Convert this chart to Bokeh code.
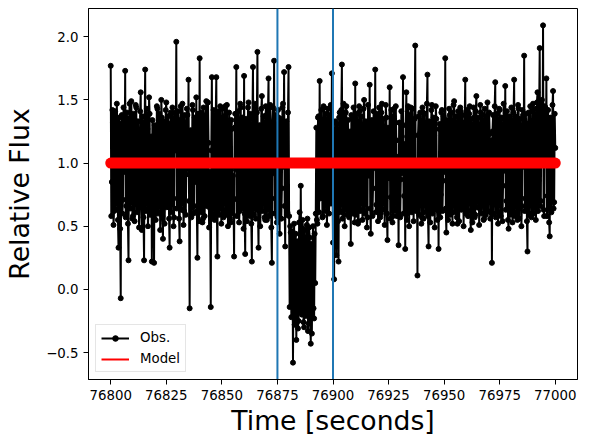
import numpy as np
from bokeh.plotting import figure
from bokeh.models import Span, Legend, LegendItem, FixedTicker, Range1d
from bokeh.embed import file_html
from bokeh.resources import INLINE

# ---------------- data ----------------
t_start = 76800.0
t_step = 0.5
# samples on the whole / half seconds
obs_flux_a = [
    1.77, 0.85, 1.32, 0.62, 1.41, 0.78, 1.18, 0.33, 1.25, -0.07,
    1.38, 0.71, 1.12, 1.73, 0.66, 1.29, 0.23, 1.47, 0.81, 1.22,
    0.58, 1.35, 0.92, 1.44, 0.69, 1.08, 0.74, 1.56, 0.47, 1.31,
    0.23, 1.74, 0.88, 1.27, 0.64, 1.39, 0.95, 0.22, 1.15, 0.21,
    1.28, 0.73, 1.43, 0.86, 1.19, 0.61, 1.36, 0.40, 1.22, 0.79,
    1.48, 0.67, 1.13, 0.33, 1.40, 0.89, 1.25, 0.57, 1.34, 1.96,
    0.72, 1.21, 0.38, 1.45, 0.83, 1.30, 0.62, 1.17, 0.91, 1.38,
    1.66, -0.15, 1.26, 0.75, 1.42, 0.66, 1.09, 1.52, 0.25, 1.33,
    1.83, 0.70, 1.24, 0.56, 1.37, 0.84, 1.49, 0.68, 1.16, 0.93,
    -0.14, 1.68, 0.77, 1.33, 0.60, 1.68, 0.26, 1.41, 0.82, 1.20,
    0.64, 1.36, 0.87, 1.45, 0.59, 1.12, 0.76, 1.31, 0.53, 1.27,
    0.90, 0.26, 1.39, 1.76, 0.71, 1.23, 0.62, 1.44, 0.85, 1.18,
    1.69, 0.28, 1.35, 0.74, 1.48, 0.58, 1.21, 0.22, 1.76, 0.69,
    1.42, 0.81, 1.88, 0.33, 1.30, 0.65, 1.53, 0.78, 1.26, 0.55,
    1.38, 0.86, 1.67, 0.63, 1.29, 0.21, 1.44, 1.81, 0.72, 1.19,
    0.57, 1.36, 0.44, 1.25, 0.80, 1.47, 1.72, 0.34, 1.33, 0.61,
    1.76, -0.14, 0.45, 0.05, -0.58, 0.52, -0.12, -0.40, 0.38, -0.25,
    0.61, 0.82, -0.20, 0.48, -0.30, 0.30, -0.08, 0.56, -0.27, 0.41,
    -0.43, -0.35, 0.50, -0.23, 0.05, 1.28, 0.52, 1.37, 1.65, 0.74,
    1.21, 0.58, 1.44, 0.83, 1.30, 0.66, 1.18, 0.90, 1.46, 1.71,
    0.37, 0.08, 1.33, 0.27, 1.24, 0.22, 1.40, 0.75, 1.78, 0.62,
    1.26, 0.88, 1.45, 0.59, 1.14, 0.79, 0.36, 1.35, 0.68, 1.29,
    1.63, 0.71, 1.22, 0.54, 1.41, 0.85, 1.19, 0.63, 1.50, 0.92,
    1.31, 0.57, 1.27, 1.62, 0.44, 1.34, 0.80, 1.16, 1.74, 0.67,
    1.39, 0.76, 1.25, 0.60, 1.47, 0.89, 1.12, 0.70, 1.36, 0.39,
    1.23, 1.60, 0.73, 1.30, 0.58, 1.43, 0.84, 1.18, 0.65, 0.35,
    1.32, 0.87, 1.21, 1.68, 0.74, 0.32, 1.56, 0.69, 1.28, 0.90,
    1.44, 0.61, 1.17, 0.78, 1.93, 0.62, 0.11, 1.37, 0.83, 1.25,
    0.57, 1.40, 0.88, 1.16, 0.66, 1.70, 0.34, 1.29, 0.79, 1.46,
    0.63, 1.22, 0.92, 1.35, 0.55, 0.32, 1.31, 0.75, 1.42, 0.86,
    1.20, 1.83, 0.45, 1.27, 0.71, 1.38, 0.60, 1.15, 0.89, 1.49,
    0.66, 1.24, 0.52, 1.33, 0.81, 1.41, 0.68, 1.19, 0.77, 1.66,
    0.63, 1.30, 0.85, 1.45, 0.47, 1.21, 0.74, 1.36, 0.59, 1.53,
    0.90, 1.17, 0.64, 1.40, 0.80, 1.26, 0.56, 1.34, 0.72, 1.48,
    0.87, 1.23, 0.61, 0.21, 1.38, 0.78, 1.64, 0.67, 1.29, 0.93,
    1.42, 0.58, 1.16, 0.82, 1.35, 1.61, 0.70, 1.24, 0.48, 1.37,
    0.84, 1.19, 0.62, 1.66, 0.76, 1.31, 0.55, 1.43, 0.89, 1.22,
    0.66, 1.38, 1.85, 0.72, 1.27, 0.30, 1.40, 0.81, 1.15, 0.60,
    1.47, 0.79, 1.33, 0.64, 1.56, 0.86, 1.91, 0.70, 1.50, 2.09,
    0.58, 1.44, 1.67, 0.74, 1.30, 0.42, 1.36, 0.88, 1.57, 0.69,
    1.12,
]
# samples a quarter second later
obs_flux_b = [
    0.58, 1.42, 0.51, 1.38, 0.63, 1.47, 0.55, 1.36, 0.48, 1.31,
    0.60, 1.44, 0.93, 0.57, 1.40, 0.52, 1.35, 0.64, 1.49, 0.56,
    1.39, 0.54, 1.46, 0.61, 1.33, 0.49, 1.41, 0.66, 1.37, 0.57,
    1.29, 0.62, 1.43, 0.50, 1.52, 0.59, 1.21, 1.34, 0.63, 1.30,
    0.55, 1.45, 0.60, 1.39, 0.47, 1.50, 0.58, 1.33, 0.52, 1.42,
    0.65, 1.37, 0.56, 1.31, 0.61, 1.44, 0.50, 1.40, 1.10, 0.64,
    1.41, 0.56, 1.34, 0.63, 1.47, 0.51, 1.38, 0.59, 1.43, 0.95,
    0.70, 1.02, 0.57, 1.46, 0.60, 1.36, 0.85, 0.62, 1.39, 0.54,
    0.61, 1.40, 0.53, 1.44, 0.58, 1.35, 0.66, 1.48, 0.49, 0.64,
    1.10, 0.57, 1.42, 0.55, 1.38, 0.63, 1.30, 0.59, 1.45, 0.52,
    1.43, 0.57, 1.37, 0.62, 1.46, 0.50, 1.40, 0.56, 1.34, 0.60,
    0.72, 1.28, 0.95, 0.58, 1.41, 0.53, 1.47, 0.64, 1.36, 0.48,
    0.60, 1.32, 0.54, 1.44, 0.61, 1.39, 0.52, 1.35, 0.59, 1.47,
    0.56, 1.40, 0.63, 1.29, 0.50, 1.43, 0.62, 1.37, 0.57, 1.45,
    0.55, 1.41, 0.58, 1.46, 0.49, 1.30, 0.92, 0.60, 1.38, 0.53,
    1.42, 0.62, 1.35, 0.56, 1.44, 0.97, 0.66, 1.31, 0.59, 1.40,
    0.58, 0.50, -0.22, 0.46, 0.20, -0.28, 0.44, 0.25, -0.31, 0.53,
    -0.18, 0.10, 0.55, -0.26, 0.47, -0.21, 0.51, -0.33, 0.49, -0.19,
    0.36, 0.28, -0.15, 0.44, 0.60, 0.55, 1.36, 0.61, 0.72, 1.42,
    0.57, 1.45, 0.62, 1.39, 0.51, 1.43, 0.60, 1.38, 0.68, 0.95,
    1.05, 1.20, 0.58, 1.31, 0.54, 1.36, 0.61, 1.42, 0.56, 1.47,
    0.50, 1.40, 0.63, 1.34, 0.57, 1.25, 1.38, 0.60, 1.44, 0.53,
    0.59, 1.39, 0.52, 1.45, 0.62, 1.37, 0.55, 1.43, 0.60, 1.33,
    0.49, 1.46, 0.90, 0.64, 1.30, 0.58, 1.41, 0.96, 0.61, 1.38,
    0.54, 1.44, 0.57, 1.40, 0.63, 1.35, 0.51, 1.46, 0.60, 1.28,
    0.88, 0.56, 1.42, 0.53, 1.37, 0.62, 1.45, 0.58, 1.05, 1.32,
    0.57, 1.41, 0.92, 0.60, 1.15, 1.30, 0.55, 1.45, 0.50, 1.38,
    0.62, 1.43, 0.54, 1.35, 0.64, 0.95, 1.22, 0.59, 1.40, 0.52,
    1.44, 0.56, 1.39, 0.61, 1.47, 0.58, 1.33, 0.53, 1.42, 0.60,
    1.36, 0.49, 1.45, 0.63, 0.98, 1.27, 0.57, 1.40, 0.62, 1.37,
    0.93, 0.64, 1.34, 0.55, 1.43, 0.59, 1.40, 0.52, 1.46, 0.61,
    1.37, 0.57, 1.41, 0.54, 1.44, 0.63, 1.38, 0.50, 1.32, 0.60,
    1.42, 0.58, 1.39, 0.62, 1.35, 0.53, 1.44, 0.57, 1.41, 0.65,
    1.36, 0.51, 1.46, 0.60, 1.38, 0.55, 1.43, 0.59, 1.37, 0.62,
    1.40, 0.56, 1.18, 1.25, 0.60, 1.45, 0.57, 1.39, 0.52, 1.43,
    0.61, 1.36, 0.54, 1.47, 0.94, 0.63, 1.41, 0.55, 1.33, 0.59,
    1.44, 0.53, 1.40, 0.58, 1.37, 0.61, 1.46, 0.56, 1.35, 0.50,
    1.42, 0.97, 0.62, 1.39, 0.54, 1.31, 0.59, 1.45, 0.57, 1.41,
    0.60, 1.43, 0.55, 1.48, 0.62, 1.40, 0.66, 1.38, 1.02, 0.63,
    1.45, 0.99, 0.58, 1.42, 0.53, 1.34, 0.61, 1.46, 0.64, 1.39,
]
time_a = t_start + t_step * np.arange(len(obs_flux_a))
time_b = t_start + t_step / 2 + t_step * np.arange(len(obs_flux_b))
_t = np.concatenate([time_a, time_b])
_f = np.concatenate([np.array(obs_flux_a), np.array(obs_flux_b)])
_order = np.argsort(_t, kind="stable")
obs_time = _t[_order]
obs_flux = _f[_order]

model_time = [76800.0, 77000.0]
model_flux = [1.0, 1.0]

vlines = [76875.0, 76900.0]

x_ticks = [76800, 76825, 76850, 76875, 76900, 76925, 76950, 76975, 77000]
y_ticks = [-0.5, 0.0, 0.5, 1.0, 1.5, 2.0]
y_tick_labels = ["\u22120.5", "0.0", "0.5", "1.0", "1.5", "2.0"]

# ---------------- figure ----------------
all_y = list(obs_flux) + model_flux
ylo, yhi = min(all_y), max(all_y)
ypad = 0.05 * (yhi - ylo)
xlo, xhi = float(obs_time.min()), float(obs_time.max())
xpad = 0.05 * (xhi - xlo)

FONT = "DejaVu Sans"

p = figure(width=593, height=446, output_backend="svg", toolbar_location=None,
           x_range=Range1d(xlo - xpad, xhi + xpad),
           y_range=Range1d(ylo - ypad, yhi + ypad),
           min_border_left=88, min_border_right=16, min_border_top=8, min_border_bottom=67)
p.grid.visible = False
p.outline_line_color = "black"
p.outline_line_width = 1
p.background_fill_color = "white"
p.border_fill_color = "white"

# observations
obs_line = p.line(obs_time, obs_flux, line_color="black", line_width=2)
obs_pts = p.scatter(obs_time, obs_flux, size=5, color="black")

# vertical markers (above data, below model)
for v in vlines:
    p.add_layout(Span(location=v, dimension="height", line_color="#1f77b4",
                      line_width=2, level="glyph"))

# model: thin line for the legend, thick line on top
model_legend = p.line(model_time, model_flux, line_color="#ff0000", line_width=2)
model_thick = p.line(model_time, model_flux, line_color="#ff0000", line_width=11,
                     line_cap="round", level="annotation")

legend = Legend(items=[
    LegendItem(label="Obs.", renderers=[obs_line, obs_pts]),
    LegendItem(label="Model", renderers=[model_legend]),
], location=(7, 7))
legend.label_text_font = FONT
legend.label_text_font_size = "13.33px"
legend.label_text_color = "black"
legend.glyph_width = 28
legend.glyph_height = 14
legend.label_height = 14
legend.label_standoff = 11
legend.spacing = 6
legend.padding = 5
legend.margin = 0
legend.border_line_color = "#cccccc"
legend.border_line_width = 1
legend.background_fill_color = "white"
legend.background_fill_alpha = 0.8
p.add_layout(legend)

# axes
for ax in (p.xaxis[0], p.yaxis[0]):
    ax.major_tick_out = 5
    ax.major_tick_in = 0
    ax.minor_tick_out = 0
    ax.minor_tick_in = 0
    ax.major_tick_line_color = "black"
    ax.axis_line_color = "black"
    ax.major_label_text_font = FONT
    ax.major_label_text_font_size = "13.33px"
    ax.major_label_text_color = "black"
    ax.major_label_standoff = 5
    ax.axis_label_text_font = FONT
    ax.axis_label_text_font_size = "26.67px"
    ax.axis_label_text_font_style = "normal"
    ax.axis_label_text_color = "black"

p.xaxis[0].ticker = FixedTicker(ticks=x_ticks)
p.xaxis[0].major_label_overrides = {t: str(t) for t in x_ticks}
p.xaxis[0].axis_label = "Time [seconds]"
p.xaxis[0].axis_label_standoff = 2

p.yaxis[0].ticker = FixedTicker(ticks=y_ticks)
p.yaxis[0].major_label_overrides = {t: s for t, s in zip(y_ticks, y_tick_labels)}
p.yaxis[0].axis_label = "Relative Flux"
p.yaxis[0].axis_label_standoff = 8

open("out.html", "w").write(file_html(p, INLINE))
